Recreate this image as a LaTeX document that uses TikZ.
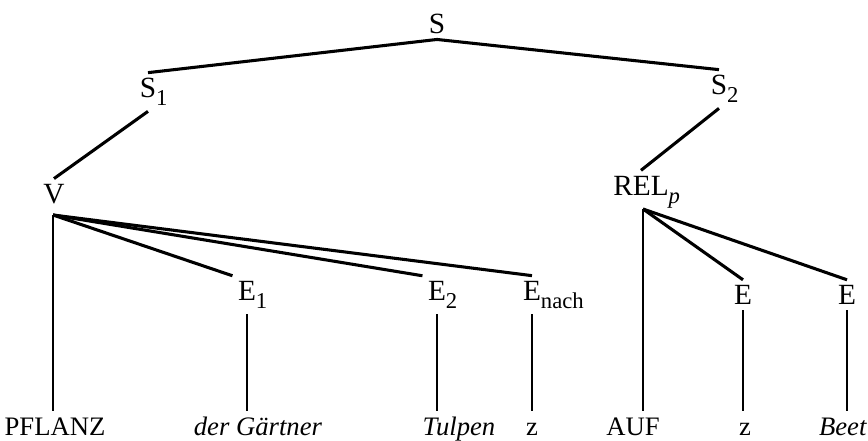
\documentclass[tikz,border=0pt]{standalone}
\usepackage{fontspec}
\setmainfont{Liberation Serif}
\newcommand{\sbs}[1]{\rlap{\raisebox{-0.6ex}{\fontsize{17}{17}\selectfont #1}}}

\begin{document}
\begin{tikzpicture}[x=0.75pt,y=0.75pt,yscale=-1,xscale=1,
  lbl/.style={inner sep=4pt,font=\fontsize{22}{26}\selectfont},
  leaf/.style={inner sep=4pt,font=\fontsize{20}{24}\selectfont,text height=14pt,text depth=2pt},
  branch/.style={line width=2.3pt},
  stem/.style={line width=1.7pt}]
\useasboundingbox (0,0) rectangle (868,440);

% Text Node
\node (S) [lbl] at (437,24) {S};
% Text Node
\node (S1) [lbl] at (148,92) {S\sbs{1}};
% Text Node
\node (S2) [lbl] at (719,89) {S\sbs{2}};
% Text Node
\node (V) [lbl] at (54,194) {V};
% Text Node
\node (REL) [lbl] at (641,192) {REL\sbs{\textit{p}}};
% Text Node
\node (E1) [lbl] at (247,295) {E\sbs{1}};
\node (E2) [lbl] at (437,295) {E\sbs{2}};
\node (Enach) [lbl] at (532,295) {E\sbs{nach}};
\node (Ea) [lbl] at (743,295) {E};
\node (Eb) [lbl] at (847,295) {E};
% Text Node
\node (pflanz) [leaf] at (55,427) {PFLANZ};
\node (gaertner) [leaf] at (258,427) {\textit{der Gärtner}};
\node (tulpen) [leaf] at (459,427) {\textit{Tulpen}};
\node (za) [leaf] at (532,427) {z};
\node (auf) [leaf] at (633,427) {AUF};
\node (zb) [leaf] at (745,427) {z};
\node (beet) [leaf] at (843,427) {\textit{Beet}};

\coordinate (Vroot) at (53,215);
\coordinate (Rroot) at (643,209);

%Straight Lines
\draw [branch] (S1.north) -- (S.south) -- (S2.north);
\draw [branch] (S1.south) -- (V.north);
\draw [branch] (S2.south) -- (REL.north);
%Straight Lines
\draw [stem] (Vroot) -- (Vroot |- pflanz.north);
\draw [branch] (Vroot) -- (E1.north west);
\draw [branch] (Vroot) -- (E2.north west);
\draw [branch] (Vroot) -- (Enach.north);
\draw [stem] (Rroot) -- (Rroot |- auf.north);
\draw [branch] (Rroot) -- (Ea.north);
\draw [branch] (Rroot) -- (Eb.north);
%Straight Lines
\draw [stem] (E1.south) -- (E1.south |- gaertner.north);
\draw [stem] (E2.south) -- (E2.south |- tulpen.north);
\draw [stem] (Enach.south) -- (Enach.south |- za.north);
\draw [stem] (Ea.south) -- (Ea.south |- zb.north);
\draw [stem] (Eb.south) -- (Eb.south |- beet.north);

\end{tikzpicture}
\end{document}
